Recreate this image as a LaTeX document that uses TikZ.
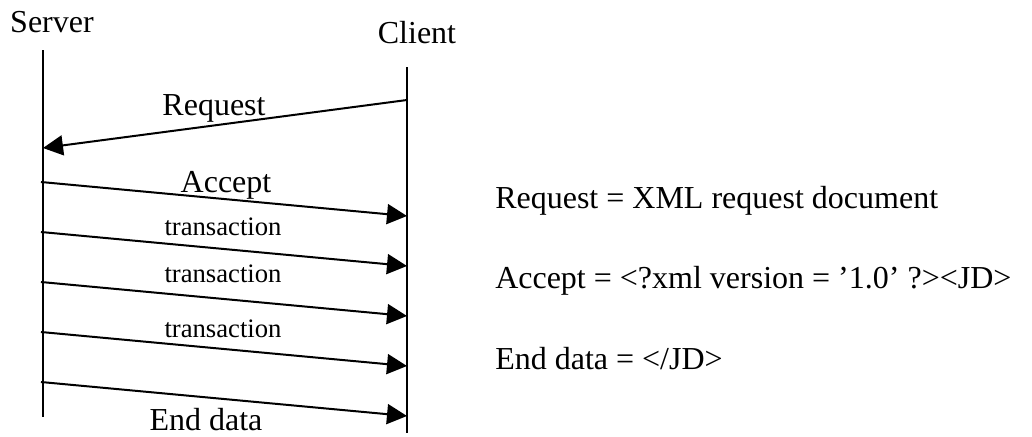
\documentclass[tikz,border=0pt]{standalone}
\usepackage{fontspec}
\setmainfont{Liberation Serif}
\usetikzlibrary{arrows.meta}
\begin{document}
\begin{tikzpicture}[x=0.75pt,y=-0.75pt,
  life/.style={line width=1.5pt},
  msg/.style={line width=1.5pt,-{Triangle[length=15pt,width=15pt]}},
  big/.style={inner sep=0pt,anchor=base,font=\fontsize{24}{28}\selectfont},
  small/.style={inner sep=0pt,anchor=base,font=\fontsize{20}{24}\selectfont},
  note/.style={inner sep=0pt,anchor=base west,font=\fontsize{24}{28}\selectfont}]
\useasboundingbox (0,0) rectangle (1032,436);
% lifelines
\coordinate (s0) at (43,50);
\coordinate (s1) at (43,417);
\coordinate (c0) at (407,67);
\coordinate (c1) at (407,433);
\draw[life] (s0) -- (s1);
\draw[life] (c0) -- (c1);
\node[big] (server) at (52,32) {Server};
\node[big] (client) at (417,43) {Client};
% message end points
\coordinate (rq0) at (407,100);
\coordinate (rq1) at (43,148);
\coordinate (ac0) at (41,182);
\coordinate (ac1) at (407,216);
\coordinate (t10) at (41,232);
\coordinate (t11) at (407,266);
\coordinate (t20) at (41,282);
\coordinate (t21) at (407,316);
\coordinate (t30) at (41,332);
\coordinate (t31) at (407,366);
\coordinate (ed0) at (41,382);
\coordinate (ed1) at (407,416);
\draw[msg] (rq0) -- (rq1);
\draw[msg] (ac0) -- (ac1);
\draw[msg] (t10) -- (t11);
\draw[msg] (t20) -- (t21);
\draw[msg] (t30) -- (t31);
\draw[msg] (ed0) -- (ed1);
% labels
\node[big] (lrq) at (214,115) {Request};
\node[big] (lac) at (226,192) {Accept};
\node[small] (lt1) at (223,235) {transaction};
\node[small] (lt2) at (223,282) {transaction};
\node[small] (lt3) at (223,337) {transaction};
\node[big] (led) at (206,430) {End data};
% notes
\node[note] (n1) at (495,208) {Request = XML request document};
\node[note] (n2) at (495,288) {Accept = <?xml version = ’1.0’ ?><JD>};
\node[note] (n3) at (495,369) {End data = </JD>};
\end{tikzpicture}
\end{document}
